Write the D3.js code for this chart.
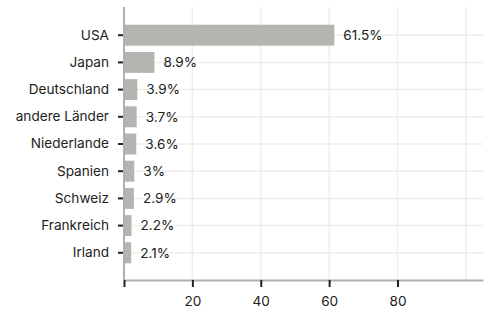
<!DOCTYPE html>
<html>
  <head>
    <meta charset="utf-8">
  </head>
  <body style="margin:0;background:#fff">
    <script src="https://cdn.jsdelivr.net/npm/d3@7"></script>
    <script>
      const width = 488;
      const height = 314;
      const margin = {top: 7, right: 5, bottom: 34, left: 124};
      const fontSize = 13.6;

      const countries = ['USA', 'Japan', 'Deutschland', 'andere Länder', 'Niederlande', 'Spanien', 'Schweiz', 'Frankreich', 'Irland'];
      const shares = [61.5, 8.9, 3.9, 3.7, 3.6, 3, 2.9, 2.2, 2.1];
      const xTicks = [0, 20, 40, 60, 80];
      const xGrid = [20, 40, 60, 80, 100];

      const data = countries.map((c, i) => ({country: c, value: shares[i]}));

      const svg = d3.select('body').append('svg')
        .attr('width', width)
        .attr('height', height)
        .style('font-family', 'Inter, sans-serif');

      const x = d3.scaleLinear()
        .domain([0, 105])
        .range([margin.left, width - margin.right]);

      const y = d3.scaleBand()
        .domain(countries)
        .range([margin.top + 1, height - margin.bottom])
        .paddingInner(0.23)
        .paddingOuter(0.615);

      const yBottom = height - margin.bottom;

      // grid
      svg.append('g')
        .selectAll('line')
        .data(xGrid)
        .join('line')
        .attr('x1', d => x(d)).attr('x2', d => x(d))
        .attr('y1', margin.top).attr('y2', yBottom)
        .attr('stroke', '#eeeeee')
        .attr('stroke-width', 1.5);

      svg.append('g')
        .selectAll('line')
        .data(countries)
        .join('line')
        .attr('x1', margin.left).attr('x2', width - margin.right)
        .attr('y1', d => y(d) + y.bandwidth() / 2)
        .attr('y2', d => y(d) + y.bandwidth() / 2)
        .attr('stroke', '#eeeeee')
        .attr('stroke-width', 1.5);

      // bars
      svg.append('g')
        .selectAll('rect')
        .data(data)
        .join('rect')
        .attr('x', x(0))
        .attr('y', d => y(d.country))
        .attr('width', d => x(d.value) - x(0))
        .attr('height', y.bandwidth())
        .attr('fill', '#b5b4b0');

      svg.append('g')
        .selectAll('text')
        .data(data)
        .join('text')
        .attr('x', d => x(d.value) + 9)
        .attr('y', d => y(d.country) + y.bandwidth() / 2)
        .attr('dy', '0.35em')
        .attr('font-size', fontSize)
        .attr('fill', '#222')
        .text(d => d.value + '%');

      // axes
      const yAxis = svg.append('g')
        .attr('transform', `translate(${margin.left},0)`)
        .call(d3.axisLeft(y).tickSize(6).tickPadding(9));
      yAxis.select('.domain').remove();
      yAxis.selectAll('.tick line').attr('stroke', '#222').attr('stroke-width', 2);
      yAxis.selectAll('.tick text').attr('font-size', fontSize).attr('fill', '#222').attr('font-family', 'Inter, sans-serif');

      svg.append('line')
        .attr('x1', margin.left).attr('x2', margin.left)
        .attr('y1', margin.top).attr('y2', yBottom)
        .attr('stroke', '#b0b0b0')
        .attr('stroke-width', 2);

      const xAxis = svg.append('g')
        .attr('transform', `translate(0,${yBottom})`)
        .call(d3.axisBottom(x).tickValues(xTicks).tickFormat(d => d === 0 ? '' : d).tickSize(7).tickPadding(9).tickSizeOuter(0));
      xAxis.select('.domain').attr('stroke', '#b0b0b0').attr('stroke-width', 2);
      xAxis.selectAll('.tick line').attr('stroke', '#222').attr('stroke-width', 2);
      xAxis.selectAll('.tick text').attr('font-size', fontSize).attr('fill', '#222').attr('font-family', 'Inter, sans-serif');
    </script>
  </body>
</html>
